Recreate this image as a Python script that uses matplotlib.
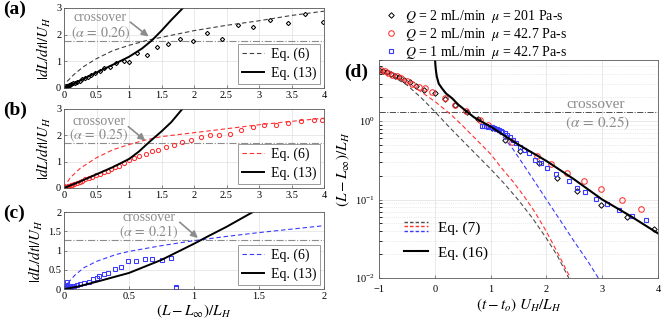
import numpy as np
import matplotlib
matplotlib.use('Agg')
import matplotlib.pyplot as plt
from matplotlib.lines import Line2D
from matplotlib.legend_handler import HandlerBase

plt.rcParams['font.family'] = ['Liberation Serif', 'DejaVu Serif']
plt.rcParams['mathtext.fontset'] = 'stix'
plt.rcParams['xtick.direction'] = 'in'
plt.rcParams['ytick.direction'] = 'in'

# ---- panel (a): Q = 2 mL/min, mu = 201 Pa-s
a_eq13_x = [0, 0.1, 0.25, 0.5, 0.75, 1.0, 1.2, 1.35, 1.5, 1.65, 1.83]
a_eq13_y = [0, 0.1, 0.28, 0.58, 0.87, 1.17, 1.48, 1.78, 2.15, 2.55, 3.0]
a_eq6_x = [0, 0.05, 0.15, 0.3, 0.5, 0.75, 1.0, 1.3, 1.6, 2.0, 2.5, 3.0, 3.5, 4.0]
a_eq6_y = [0, 0.25, 0.5, 0.8, 1.1, 1.4, 1.6, 1.8, 1.95, 2.15, 2.35, 2.52, 2.72, 2.88]
a_pts_x = [0.01, 0.02, 0.03, 0.04, 0.05, 0.07, 0.09, 0.11, 0.14, 0.17, 0.2, 0.24,
           0.28, 0.32, 0.37, 0.42, 0.48, 0.55, 0.62, 0.7, 0.8, 0.92, 1.0, 1.12,
           1.27, 1.43, 1.6, 1.79, 1.99, 2.2, 2.43, 2.67, 2.91, 3.17, 3.44, 3.71, 3.98]
a_pts_y = [0.02, 0.04, 0.06, 0.07, 0.08, 0.1, 0.12, 0.14, 0.17, 0.2, 0.24, 0.28,
           0.32, 0.37, 0.42, 0.48, 0.55, 0.62, 0.75, 0.8, 0.95, 1.0, 0.98, 1.3,
           1.22, 1.52, 1.65, 1.83, 1.75, 2.05, 1.83, 2.35, 2.3, 2.55, 2.42, 2.78, 2.48]

# ---- panel (b): Q = 2 mL/min, mu = 42.7 Pa-s
b_eq13_x = [0, 0.25, 0.5, 0.75, 1.0, 1.15, 1.3, 1.5, 1.65, 1.82]
b_eq13_y = [0, 0.25, 0.52, 0.79, 1.1, 1.38, 1.72, 2.15, 2.5, 3.0]
b_eq6_x = [0, 0.03, 0.1, 0.25, 0.5, 0.75, 1.0, 1.25, 1.5, 2.0, 2.5, 3.0, 3.5, 4.0]
b_eq6_y = [0, 0.15, 0.4, 0.75, 1.15, 1.45, 1.65, 1.82, 1.95, 2.1, 2.25, 2.4, 2.53, 2.65]
b_pts_x = [0.01, 0.02, 0.03, 0.04, 0.06, 0.08, 0.1, 0.13, 0.16, 0.2, 0.24, 0.28,
           0.33, 0.38, 0.43, 0.49, 0.55, 0.61, 0.67, 0.73, 0.79, 0.85, 0.92, 1.0,
           1.08, 1.16, 1.26, 1.36, 1.45, 1.57, 1.69, 1.82, 1.95, 2.11, 2.25, 2.39,
           2.56, 2.72, 2.9, 3.08, 3.26, 3.44, 3.65, 3.85, 3.97]
b_pts_y = [0.01, 0.02, 0.03, 0.04, 0.06, 0.08, 0.1, 0.13, 0.16, 0.2, 0.24, 0.28,
           0.33, 0.38, 0.43, 0.49, 0.55, 0.6, 0.66, 0.72, 0.78, 0.85, 0.96, 1.05,
           1.12, 1.2, 1.3, 1.39, 1.46, 1.56, 1.64, 1.74, 1.83, 1.95, 2.0, 2.02,
           2.04, 2.2, 2.33, 2.4, 2.4, 2.48, 2.56, 2.6, 2.6]

# ---- panel (c): Q = 1 mL/min, mu = 42.7 Pa-s
c_eq13_x = [0, 0.1, 0.25, 0.5, 0.75, 1.0, 1.1, 1.25, 1.45]
c_eq13_y = [0, 0.06, 0.19, 0.42, 0.76, 1.18, 1.36, 1.62, 2.0]
c_eq6_x = [0, 0.02, 0.08, 0.15, 0.25, 0.4, 0.5, 0.75, 1.0, 1.25, 1.5, 1.75, 2.0]
c_eq6_y = [0, 0.12, 0.35, 0.55, 0.72, 0.9, 0.98, 1.13, 1.26, 1.37, 1.47, 1.56, 1.65]
c_pts_x = [0.01, 0.01, 0.02, 0.02, 0.03, 0.04, 0.05, 0.06, 0.08, 0.1, 0.12, 0.15,
           0.19, 0.22, 0.25, 0.27, 0.31, 0.34, 0.39, 0.44, 0.49, 0.55, 0.62, 0.68,
           0.75, 0.82, 0.86, 0.86]
c_pts_y = [0.02, 0.05, 0.18, 0.1, 0.04, 0.06, 0.05, 0.07, 0.08, 0.1, 0.12, 0.16,
           0.19, 0.25, 0.3, 0.33, 0.38, 0.42, 0.52, 0.58, 0.72, 0.74, 0.78, 0.78,
           0.75, 0.81, 0.05, 0.02]

# ---- panel (d)
d_eq16_x = [0.005, 0.01, 0.02, 0.035, 0.07, 0.13, 0.2, 0.31, 0.42, 0.54, 0.7, 0.9,
            1.0, 1.25, 1.5, 2.0, 2.5, 3.0, 3.5, 4.0]
d_eq16_y = [6.0, 5.2, 4.4, 3.7, 3.0, 2.6, 2.25, 1.95, 1.62, 1.38, 1.12, 0.93,
            0.85, 0.65, 0.5, 0.31, 0.18, 0.1, 0.062, 0.037]
d_eq7k_x = [-1, -0.75, -0.5, -0.25, 0, 0.25, 0.5, 0.75, 1.0, 1.25, 1.5, 1.75, 2.0, 2.2, 2.4]
d_eq7k_y = [4.47, 3.72, 2.88, 2.0, 1.32, 0.85, 0.56, 0.37, 0.245, 0.158, 0.098,
            0.058, 0.032, 0.019, 0.01]
d_eq7r_x = [-1, -0.5, 0, 0.3, 0.5, 0.75, 1.0, 1.2, 1.4, 1.6, 1.8, 2.0, 2.2, 2.43]
d_eq7r_y = [4.47, 3.16, 1.78, 1.19, 0.87, 0.575, 0.38, 0.25, 0.17, 0.11, 0.068,
            0.039, 0.021, 0.01]
d_eq7b_x = [0.9, 1.0, 1.1, 1.2, 1.3, 1.4, 1.6, 1.8, 2.0, 2.25, 2.5, 2.75, 2.95]
d_eq7b_y = [0.89, 0.84, 0.76, 0.66, 0.54, 0.44, 0.27, 0.165, 0.1, 0.054, 0.029,
            0.016, 0.0095]
d_k_x = [-1.0, -0.93, -0.86, -0.79, -0.72, -0.64, -0.55, -0.45, -0.33, -0.2, 0.0,
         0.18, 0.37, 0.57, 0.78, 1.02, 1.26, 1.53, 1.86, 2.19, 2.55, 2.98, 3.45, 3.93]
d_k_y = [4.5, 4.35, 4.2, 4.0, 3.8, 3.6, 3.35, 3.1, 2.8, 2.5, 2.25,
         1.89, 1.6, 1.31, 1.07, 0.82, 0.57, 0.41, 0.29, 0.19, 0.13, 0.085, 0.06, 0.042]
d_r_x = [-0.97, -0.9, -0.83, -0.76, -0.68, -0.6, -0.5, -0.4, -0.28, -0.17, -0.05,
         0.18, 0.36, 0.56, 0.81, 0.95, 1.38, 1.83, 2.09, 2.37, 2.67, 2.98, 3.36, 3.7]
d_r_y = [4.45, 4.3, 4.1, 3.9, 3.7, 3.5, 3.2, 2.95, 2.75, 2.6, 2.36,
         1.94, 1.6, 1.34, 1.03, 0.88, 0.54, 0.36, 0.28, 0.22, 0.17, 0.135, 0.1, 0.076]
d_b_x = [0.85, 0.88, 0.92, 0.95, 0.98, 1.0, 1.03, 1.06, 1.09, 1.12, 1.15, 1.18,
         1.21, 1.25, 1.3, 1.35, 1.4, 1.46, 1.52, 1.6, 1.68, 1.8, 1.9, 2.01, 2.17,
         2.4, 2.54, 2.7, 2.88, 3.08, 3.3, 3.54, 3.79]
d_b_y = [0.86, 0.86, 0.86, 0.85, 0.85, 0.84, 0.83, 0.82, 0.8, 0.79, 0.77, 0.75,
         0.72, 0.7, 0.66, 0.62, 0.57, 0.52, 0.47, 0.43, 0.395, 0.32, 0.29, 0.25, 0.21,
         0.17, 0.14, 0.125, 0.103, 0.088, 0.074, 0.062, 0.055]

legend_labels = [r'$Q$ = 2 mL/min  $\mu$ = 201 Pa-s',
                 r'$Q$ = 2 mL/min  $\mu$ = 42.7 Pa-s',
                 r'$Q$ = 1 mL/min  $\mu$ = 42.7 Pa-s']

GRAY = '0.55'
RED = '#ff3030'
BLUE = '#3a3aff'


class StackedDash(HandlerBase):
    # three dashed lines stacked on top of each other in one legend entry
    def create_artists(self, legend, orig_handle, xdescent, ydescent, width,
                       height, fontsize, trans):
        arts = []
        for k, ln in enumerate(orig_handle):
            yy = -ydescent + height * (0.95 - 0.42 * k)
            l = Line2D([-xdescent, -xdescent + width], [yy, yy],
                       color=ln.get_color(), linestyle=(0, (2.5, 1.5)),
                       linewidth=1.0, transform=trans)
            arts.append(l)
        return arts


fig = plt.figure(figsize=(6.64, 3.23), dpi=100)

def style_axes(ax):
    for s in ax.spines.values():
        s.set_color('0.35')
        s.set_linewidth(0.6)
    ax.tick_params(labelsize=7.5, length=2.5, width=0.5, color='0.35', pad=2)
    ax.grid(True, color='0.88', linewidth=0.5)
    ax.set_axisbelow(True)

left_panels = [
    ([0.0964, 0.7276, 0.3916, 0.2477], a_eq13_x, a_eq13_y, a_eq6_x, a_eq6_y,
     a_pts_x, a_pts_y, 'k', 'D', 3, 1.78, '0.26', (0.56, 2.66), (0.56, 2.05),
     (1.02, 2.47), (1.3, 1.93), '(a)'),
    ([0.0964, 0.418, 0.3916, 0.2446], b_eq13_x, b_eq13_y, b_eq6_x, b_eq6_y,
     b_pts_x, b_pts_y, RED, 'o', 3, 1.72, '0.25', (0.54, 2.52), (0.54, 2.0),
     (0.99, 2.33), (1.25, 1.8), '(b)'),
    ([0.0964, 0.105, 0.3916, 0.238], c_eq13_x, c_eq13_y, c_eq6_x, c_eq6_y,
     c_pts_x, c_pts_y, BLUE, 's', 2, 1.28, '0.21', (0.65, 1.87), (0.65, 1.47),
     (0.89, 1.74), (1.03, 1.33), '(c)'),
]

for (rect, ex, ey, dx, dy, px, py, col, mk, ymax, cross, alpha, t1, t2,
     a0, a1, lab) in left_panels:
    ax = fig.add_axes(rect)
    style_axes(ax)
    ax.axhline(cross, color=GRAY, linestyle='-.', linewidth=0.8)
    ms = {'D': 2.2, 'o': 3.0, 's': 2.8}[mk]
    ax.plot(px, py, linestyle='none', marker=mk, markersize=ms,
            markerfacecolor='none', markeredgecolor=col, markeredgewidth=0.75)
    dcol = '0.25' if col == 'k' else col
    ax.plot(dx, dy, color=dcol, linestyle=(0, (4, 2.5)), linewidth=0.8,
            label='Eq. (6)')
    ax.plot(ex, ey, color='k', linewidth=1.4, label='Eq. (13)')
    ax.text(*t1, 'crossover', color=GRAY, fontsize=10, ha='center', va='center')
    ax.text(*t2, r'$(\alpha\,=\,%s)$' % alpha, color=GRAY, fontsize=10,
            ha='center', va='center')
    ax.annotate('', xy=a1, xytext=a0,
                arrowprops=dict(arrowstyle='-|>', color=GRAY, lw=1.2,
                                mutation_scale=10, shrinkA=0, shrinkB=0))
    if ymax == 3:
        ax.set_xlim(0, 4)
        ax.set_xticks([0, 0.5, 1, 1.5, 2, 2.5, 3, 3.5, 4])
        ax.set_xticklabels(['0', '0.5', '1', '1.5', '2', '2.5', '3', '3.5', '4'])
        ax.set_ylim(0, 3)
        ax.set_yticks([0, 1, 2, 3])
    else:
        ax.set_xlim(0, 2)
        ax.set_xticks([0, 0.5, 1, 1.5, 2])
        ax.set_xticklabels(['0', '0.5', '1', '1.5', '2'])
        ax.set_ylim(0, 2)
        ax.set_yticks([0, 0.5, 1, 1.5, 2])
        ax.set_yticklabels(['0', '0.5', '1', '1.5', '2'])
        ax.set_xlabel(r'$(L-L_{\infty})/L_H$', fontsize=11, labelpad=1)
    ax.set_ylabel(r'$|dL/dt|/U_H$', fontsize=11, labelpad=2)
    leg = ax.legend(loc='lower right', fontsize=10, handlelength=1.6,
                    handletextpad=0.5, labelspacing=0.45, borderpad=0.25,
                    borderaxespad=0.3, fancybox=False, framealpha=1,
                    edgecolor='0.45')
    leg.get_frame().set_linewidth(0.5)
    fig.text(0.005, rect[1] + rect[3] - 0.005, lab, fontsize=14,
             fontweight='bold', va='center', ha='left')

# ---- panel (d)
axd = fig.add_axes([0.5708, 0.1393, 0.4202, 0.675])
style_axes(axd)
axd.set_yscale('log')
axd.tick_params(axis='x', pad=5)
axd.tick_params(axis='y', which='major', pad=3)
axd.grid(True, which='minor', color='0.85', linestyle=':', linewidth=0.5)
axd.axhline(1.3, color='0.3', linestyle='-.', linewidth=0.7)
hk, = axd.plot(d_k_x, d_k_y, linestyle='none', marker='D', markersize=2.8,
               markerfacecolor='none', markeredgecolor='k', markeredgewidth=0.7)
hr, = axd.plot(d_r_x, d_r_y, linestyle='none', marker='o', markersize=4.0,
               markerfacecolor='none', markeredgecolor=RED, markeredgewidth=0.75)
hb, = axd.plot(d_b_x, d_b_y, linestyle='none', marker='s', markersize=3.5,
               markerfacecolor='none', markeredgecolor=BLUE, markeredgewidth=0.8)
lk, = axd.plot(d_eq7k_x, d_eq7k_y, color='0.3', linestyle=(0, (4, 2.5)), linewidth=0.8)
lr, = axd.plot(d_eq7r_x, d_eq7r_y, color=RED, linestyle=(0, (4, 2.5)), linewidth=0.8)
lb, = axd.plot(d_eq7b_x, d_eq7b_y, color=BLUE, linestyle=(0, (4, 2.5)), linewidth=0.8)
l16, = axd.plot(d_eq16_x, d_eq16_y, color='k', linewidth=1.5)
axd.set_xlim(-1, 4)
axd.set_ylim(0.01, 6)
axd.set_xticks([-1, 0, 1, 2, 3, 4])
axd.text(2.88, 1.62, 'crossover', color=GRAY, fontsize=11, ha='center', va='center')
axd.text(2.92, 0.93, r'$(\alpha\,=\,0.25)$', color=GRAY, fontsize=11,
         ha='center', va='center')
axd.set_xlabel(r'$(t-t_o)\ U_H/L_H$', fontsize=11, labelpad=2)
axd.set_ylabel(r'$(L-L_{\infty})/L_H$', fontsize=11, labelpad=2)
axd.legend([(lk, lr, lb), l16], ['Eq. (7)', 'Eq. (16)'],
           handler_map={tuple: StackedDash()}, loc='lower left',
           bbox_to_anchor=(0.04, 0.02), frameon=False, fontsize=11,
           handlelength=1.6, handletextpad=0.6, labelspacing=0.7)
fig.text(0.518, 0.776, '(d)', fontsize=14, fontweight='bold', va='center', ha='left')

fig.legend([hk, hr, hb], legend_labels, loc='upper left',
           bbox_to_anchor=(0.568, 1.0), frameon=False, fontsize=10,
           handlelength=0.8, handletextpad=0.6, labelspacing=0.05,
           borderaxespad=0.2)

fig.savefig('out.png', dpi=100)
